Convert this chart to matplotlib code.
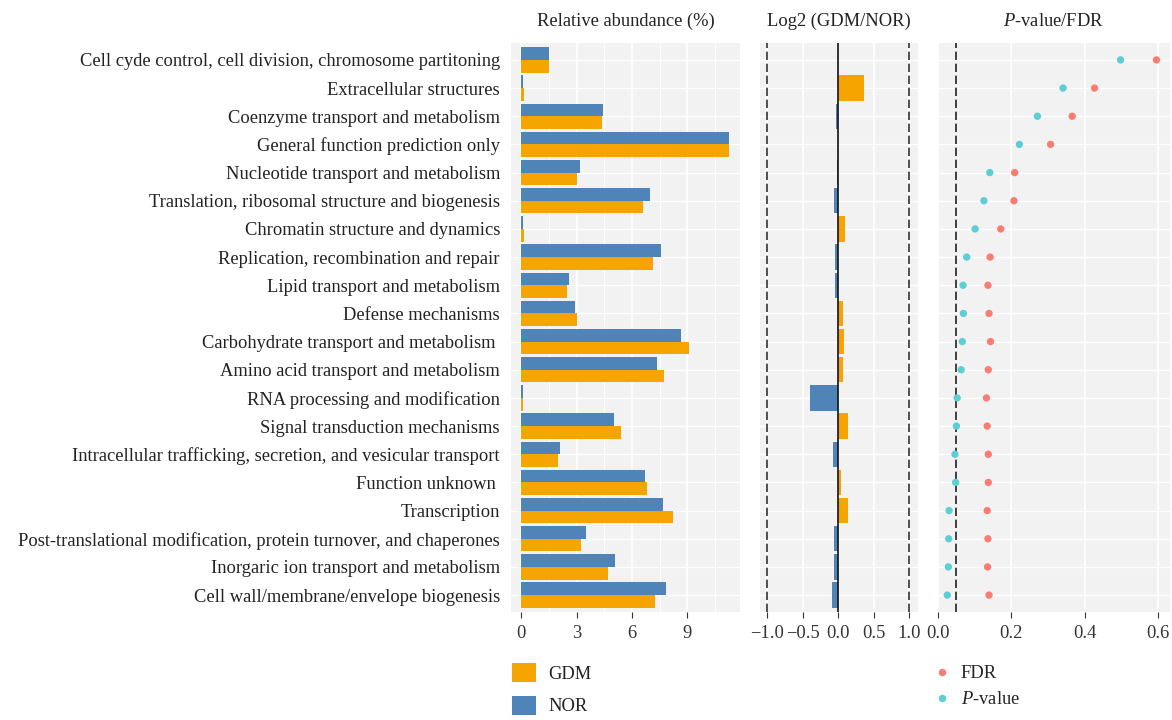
import matplotlib
matplotlib.use('Agg')
import matplotlib.pyplot as plt
from matplotlib.patches import Patch
from matplotlib.lines import Line2D
from matplotlib.ticker import MultipleLocator
import numpy as np

plt.rcParams['font.family'] = ['Liberation Serif', 'DejaVu Serif']
plt.rcParams['mathtext.fontset'] = 'custom'
plt.rcParams['mathtext.it'] = 'Liberation Serif:italic'
plt.rcParams['mathtext.rm'] = 'Liberation Serif'

# ── Data ──────────────────────────────────────────────────────────────────────
categories = [
    'Cell cyde control, cell division, chromosome partitoning',
    'Extracellular structures',
    'Coenzyme transport and metabolism',
    'General function prediction only',
    'Nucleotide transport and metabolism',
    'Translation, ribosomal structure and biogenesis',
    'Chromatin structure and dynamics',
    'Replication, recombination and repair',
    'Lipid transport and metabolism',
    'Defense mechanisms',
    'Carbohydrate transport and metabolism ',
    'Amino acid transport and metabolism',
    'RNA processing and modification',
    'Signal transduction mechanisms',
    'Intracellular trafficking, secretion, and vesicular transport',
    'Function unknown ',
    'Transcription',
    'Post-translational modification, protein turnover, and chaperones',
    'Inorgaric ion transport and metabolism',
    'Cell wall/membrane/envelope biogenesis',
]
gdm = [1.52, 0.12, 4.40, 11.28, 3.04, 6.62, 0.12, 7.16, 2.49, 3.04,
       9.11, 7.76, 0.06, 5.43, 2.01, 6.84, 8.25, 3.26, 4.72, 7.27]
nor = [1.52, 0.09, 4.45, 11.28, 3.20, 7.00, 0.11, 7.60, 2.60, 2.93,
       8.68, 7.38, 0.08, 5.05, 2.12, 6.73, 7.70, 3.53, 5.10, 7.87]
log2fc = [0.0, 0.355, -0.03, 0.0, -0.02, -0.065, 0.10, -0.04, -0.04, 0.06,
          0.085, 0.06, -0.40, 0.13, -0.08, 0.045, 0.13, -0.065, -0.065, -0.095]
pval = [0.498, 0.341, 0.271, 0.222, 0.141, 0.125, 0.101, 0.078, 0.068, 0.069,
        0.066, 0.063, 0.052, 0.050, 0.046, 0.048, 0.030, 0.029, 0.028, 0.025]
fdr = [0.596, 0.427, 0.366, 0.307, 0.209, 0.207, 0.171, 0.142, 0.136, 0.139,
       0.143, 0.137, 0.132, 0.134, 0.137, 0.137, 0.134, 0.136, 0.135, 0.139]

# ── Colours ───────────────────────────────────────────────────────────────────
C_GDM = '#F6A500'
C_NOR = '#4E84B7'
C_FDR = '#F97D72'
C_P   = '#5DCED3'
C_BG  = '#F2F2F2'
C_TXT = '#222222'
FS = 13.3

W, H = 1172, 720
fig = plt.figure(figsize=(W/100, H/100), dpi=100)
fig.patch.set_facecolor('white')

def px_axes(x0, x1, y0, y1):
    return fig.add_axes([x0/W, 1-y1/H, (x1-x0)/W, (y1-y0)/H])

ax1 = px_axes(511, 740, 43, 612)
ax2 = px_axes(760, 918, 43, 612)
ax3 = px_axes(937, 1170, 43, 612)

y = np.arange(len(categories))

for ax in (ax1, ax2, ax3):
    ax.set_facecolor(C_BG)
    for s in ax.spines.values():
        s.set_visible(False)
    ax.set_ylim(len(categories) - 0.4, -0.6)
    ax.set_yticks(y)
    ax.grid(axis='y', color='white', lw=1.0, zorder=0)
    ax.grid(axis='x', which='major', color='white', lw=1.3, zorder=0)
    ax.set_axisbelow(True)
    ax.tick_params(axis='x', length=4, width=0.8, color='#333333',
                   labelsize=FS, labelcolor='#333333', pad=5)
    ax.tick_params(axis='y', length=0)

# ── Panel 1: relative abundance ───────────────────────────────────────────────
ax1.barh(y - 0.225, nor, height=0.45, color=C_NOR, zorder=2)
ax1.barh(y + 0.225, gdm, height=0.45, color=C_GDM, zorder=2)
ax1.set_xlim(-0.565, 11.87)
ax1.xaxis.set_major_locator(MultipleLocator(3))
ax1.xaxis.set_minor_locator(MultipleLocator(1.5))
ax1.grid(axis='x', which='minor', color='white', lw=0.7, zorder=0)
ax1.tick_params(axis='x', which='minor', length=0)
ax1.set_xticks([0, 3, 6, 9])
ax1.set_yticklabels(categories, fontsize=FS, color=C_TXT)
ax1.tick_params(axis='y', pad=8)
ax1.set_title('Relative abundance (%)', fontsize=FS, color=C_TXT, pad=12)

# ── Panel 2: log2 fold change ─────────────────────────────────────────────────
cols = [C_GDM if v > 0 else C_NOR for v in log2fc]
ax2.barh(y, log2fc, height=0.9, color=cols, zorder=2)
ax2.axvline(0, color='#111111', lw=1.2, zorder=3)
for xv in (-1, 1):
    ax2.axvline(xv, color='#333333', lw=1.2, dashes=(5, 2.2), zorder=1)
ax2.set_xlim(-1.1, 1.12)
ax2.set_xticks([-1.0, -0.5, 0.0, 0.5, 1.0])
ax2.set_xticklabels(['\u22121.0', '\u22120.5', '0.0', '0.5', '1.0'])
ax2.set_yticklabels([])
ax2.set_title('Log2 (GDM/NOR)', fontsize=FS, color=C_TXT, pad=12)

# ── Panel 3: P-value / FDR ────────────────────────────────────────────────────
ax3.axvline(0.05, color='#222222', lw=1.2, dashes=(5, 2.2), zorder=1)
ax3.scatter(fdr, y, s=28, color=C_FDR, edgecolors='none', zorder=3)
ax3.scatter(pval, y, s=28, color=C_P, edgecolors='none', zorder=3)
ax3.set_xlim(-0.003, 0.633)
ax3.set_xticks([0.0, 0.2, 0.4, 0.6])
ax3.set_xticklabels(['0.0', '0.2', '0.4', '0.6'])
ax3.set_yticklabels([])
ax3.set_title(r'$\it{P}$-value/FDR', fontsize=FS, color=C_TXT, pad=12)

# ── Legends ───────────────────────────────────────────────────────────────────
h1 = [Patch(facecolor=C_GDM, edgecolor='none', label='GDM'),
      Patch(facecolor=C_NOR, edgecolor='none', label='NOR')]
fig.legend(handles=h1, loc='upper left', bbox_to_anchor=(512/W, 1-663/H),
           frameon=False, fontsize=FS, handlelength=1.3, handleheight=1.18,
           handletextpad=0.65, labelspacing=0.72, borderpad=0, borderaxespad=0,
           labelcolor=C_TXT)

h2 = [Line2D([0], [0], marker='o', ls='none', markersize=5.4,
             markerfacecolor=C_FDR, markeredgecolor='none', label='FDR'),
      Line2D([0], [0], marker='o', ls='none', markersize=5.4,
             markerfacecolor=C_P, markeredgecolor='none', label=r'$\it{P}$-value')]
fig.legend(handles=h2, loc='upper left', bbox_to_anchor=(933/W, 1-665/H),
           frameon=False, fontsize=FS, handlelength=1.0,
           handletextpad=0.5, labelspacing=0.5, borderpad=0, borderaxespad=0,
           labelcolor=C_TXT)

fig.savefig('out.png', dpi=100, facecolor='white')
